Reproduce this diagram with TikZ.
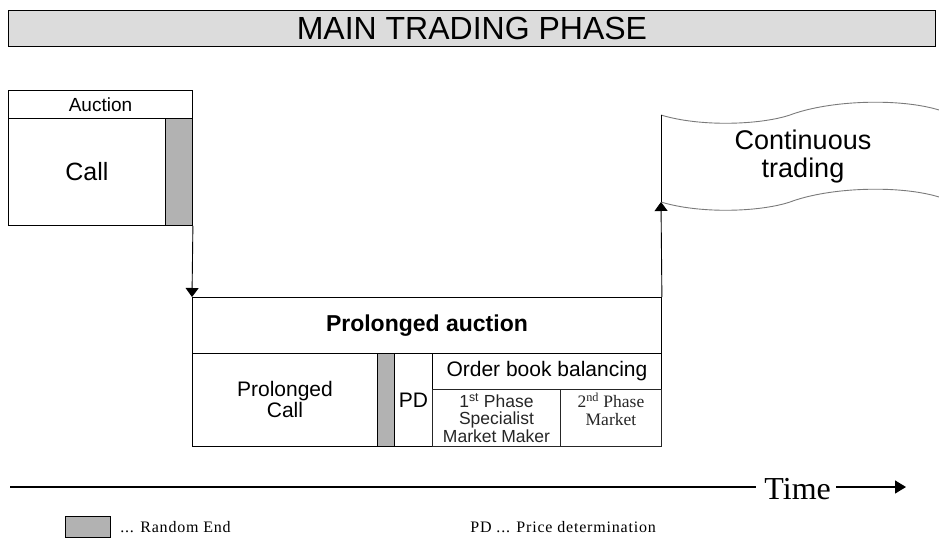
\documentclass[tikz,border=0pt]{standalone}
\usepackage{fontspec}
\setmainfont{Liberation Serif}
\setsansfont{Liberation Sans}
\newfontfamily\legendfont[LetterSpace=5]{Liberation Serif}
\usepackage{tikz}
\usetikzlibrary{arrows.meta,positioning}
\definecolor{PhaseTitle}{HTML}{DCDCDC}
\definecolor{PhaseRandom}{HTML}{B2B2B2}
\definecolor{PhaseWave}{HTML}{7A7A7A}

\begin{document}
\begin{tikzpicture}[x=1pt, y=-1pt, line width=0.9pt,
  cell/.style={draw, anchor=north west, inner sep=1pt, align=center,
    font=\sffamily\fontsize{21}{21}\selectfont},
  randbar/.style={cell, fill=PhaseRandom},
  flow/.style={-{Triangle[width=13pt,length=9pt]}}]
  \useasboundingbox (0,0) rectangle (939,540);
  % title bar
  \node[cell, fill=PhaseTitle, minimum width=927pt, minimum height=36pt,
    font=\sffamily\fontsize{32}{34}\selectfont] (title) at (8,10) {MAIN TRADING PHASE};
  % opening call auction
  \node[cell, minimum width=184pt, minimum height=28pt,
    font=\sffamily\fontsize{19}{20}\selectfont] (auc) at (8,90) {Auction};
  \node[cell, minimum width=157pt, minimum height=107pt,
    font=\sffamily\fontsize{25}{27}\selectfont] (call) at (8,118) {Call};
  \node[randbar, minimum width=27pt, minimum height=107pt] (rnd1) at (165,118) {};
  % prolonged auction
  \node[cell, minimum width=469pt, minimum height=56pt,
    font=\sffamily\bfseries\fontsize{23}{25}\selectfont] (pa) at (192,297) {Prolonged auction};
  \node[cell, minimum width=185pt, minimum height=93pt] (pcall) at (192,353) {Prolonged\\Call};
  \node[randbar, minimum width=17pt, minimum height=93pt] (rnd2) at (377,353) {};
  \node[cell, minimum width=38pt, minimum height=93pt] (pd) at (394,353) {PD};
  \node[cell, minimum width=229pt, minimum height=36pt] (obb) at (432,353) {Order book balancing};
  \node[cell, minimum width=128pt, minimum height=57pt,
    font=\sffamily\fontsize{17.5}{17.5}\selectfont, color=black!85] (ph1) at (432,389)
    {1\textsuperscript{st} Phase\\Specialist\\Market Maker};
  \node[cell, minimum width=101pt, minimum height=57pt,
    font=\rmfamily\fontsize{17.5}{17.5}\selectfont, color=black!85] (ph2) at (560,389)
    {2\textsuperscript{nd} Phase\\Market\\~};
  % continuous trading flag
  \coordinate (ctop) at (661,115);
  \coordinate (cbot) at (661,202);
  \draw[PhaseWave] (ctop) .. controls (700,127) and (760,125) .. (790,115)
    .. controls (830,100) and (900,98) .. (939,110);
  \draw[PhaseWave] (cbot) .. controls (700,214) and (760,212) .. (790,202)
    .. controls (830,187) and (900,185) .. (939,197);
  \draw (ctop) -- (cbot);
  \node[align=center, font=\sffamily\fontsize{27}{28}\selectfont] (cont) at (803,157)
    {Continuous\\trading};
  % connectors
  \draw[flow] (rnd1.south east) -- (pa.north west);
  \draw[flow] (pa.north east) -- (cbot);
  % time axis
  \node[anchor=west, inner sep=0pt, font=\rmfamily\fontsize{32}{34}\selectfont] (time) at (764,489) {Time};
  \coordinate (tstart) at (10,487);
  \coordinate (tend) at (906,487);
  \draw[line width=1.3pt] (tstart) -- ([xshift=-8pt]time.west |- tstart);
  \draw[line width=1.3pt, -{Triangle[width=13pt,length=11pt]}] ([xshift=5pt]time.east |- tstart) -- (tend);
  % legend
  \node[randbar, minimum width=45pt, minimum height=21pt] (leg) at (65,516) {};
  \node[right=9pt of leg, inner sep=0pt, font=\legendfont\fontsize{16}{17}\selectfont] (legrnd) {... Random End};
  \node[anchor=west, inner sep=0pt, font=\legendfont\fontsize{16}{17}\selectfont] (legpd) at (470,527)
    {PD ... Price determination};
\end{tikzpicture}
\end{document}
